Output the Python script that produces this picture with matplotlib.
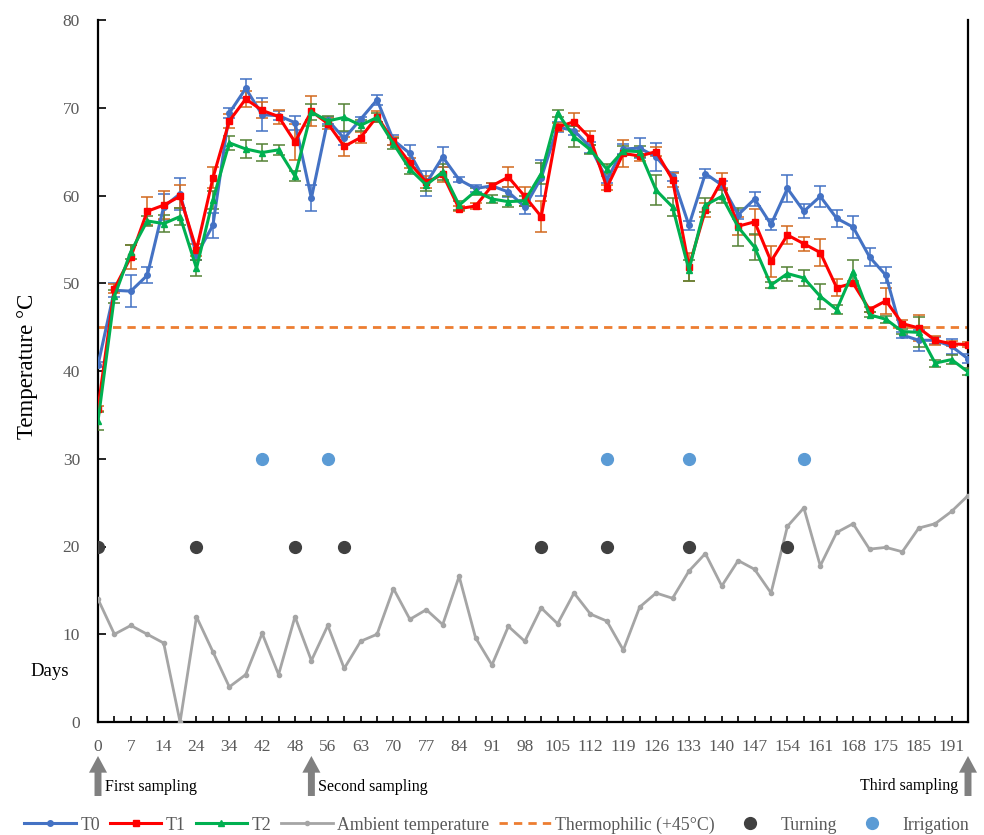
import numpy as np
import matplotlib
matplotlib.use("Agg")
import matplotlib.pyplot as plt
from matplotlib import transforms

plt.rcParams['font.family'] = ['Liberation Serif', 'DejaVu Serif']

# composting days (category axis, every other one labelled)
days = [0, 3, 7, 10, 14, 17, 24, 28, 34, 38, 42, 45, 48, 52, 56, 59, 63, 66, 70, 73,
        77, 80, 84, 87, 91, 94, 98, 101, 105, 108, 112, 115, 119, 122, 126, 129, 133, 136,
        140, 143, 147, 150, 154, 157, 161, 164, 168, 171, 175, 178, 185, 188, 191, 194]

# pile temperatures (mean) per treatment
t0 = [40.7, 49.2, 49.1, 50.9, 58.7, 60.2, 53.2, 56.6, 69.4, 72.2,
      69.2, 69.1, 68.3, 59.7, 68.6, 66.5, 68.7, 70.9, 66.3, 64.8,
      61.4, 64.4, 61.8, 60.8, 61.1, 60.4, 58.7, 62.0, 67.8, 67.4,
      65.5, 61.8, 65.3, 65.4, 64.4, 62.2, 56.6, 62.5, 61.2, 57.8,
      59.6, 56.7, 60.8, 58.2, 59.9, 57.4, 56.4, 53.0, 50.9, 44.1,
      43.5, 43.5, 42.8, 41.4]
t1 = [35.7, 49.4, 53.0, 58.2, 58.9, 59.9, 53.8, 62.0, 68.5, 71.0,
      69.7, 69.0, 66.1, 69.6, 68.2, 65.6, 66.6, 69.0, 66.2, 63.7,
      61.5, 62.4, 58.5, 58.8, 61.1, 62.1, 59.9, 57.6, 67.8, 68.4,
      66.5, 60.9, 64.8, 64.5, 65.0, 61.8, 51.9, 58.3, 61.7, 56.5,
      57.0, 52.5, 55.5, 54.5, 53.5, 49.5, 50.0, 47.0, 48.0, 45.4,
      44.9, 43.5, 43.1, 43.0]
t2 = [34.3, 48.5, 53.6, 57.1, 56.8, 57.6, 51.7, 59.5, 66.0, 65.3,
      64.9, 65.2, 62.2, 69.5, 68.5, 68.9, 68.0, 68.9, 65.9, 63.0,
      61.2, 62.7, 58.9, 60.5, 59.6, 59.3, 59.4, 62.5, 69.4, 66.7,
      65.2, 63.0, 65.1, 65.0, 60.6, 58.7, 51.5, 58.9, 59.9, 56.4,
      54.1, 49.8, 51.1, 50.6, 48.5, 47.0, 51.3, 46.4, 45.9, 44.5,
      44.4, 40.9, 41.3, 39.9]

# standard deviations
t0_sd = [0.3, 0.8, 1.8, 0.9, 1.5, 1.8, 0.5, 1.4, 0.6, 1.1,
         1.9, 0.5, 0.8, 1.5, 0.4, 0.7, 0.3, 0.6, 0.6, 1.0,
         1.4, 1.1, 0.3, 0.4, 0.3, 0.6, 0.8, 2.0, 0.6, 0.5,
         0.6, 0.4, 0.6, 1.1, 1.6, 0.5, 0.5, 0.5, 0.5, 0.5,
         0.8, 0.6, 1.5, 0.8, 1.2, 1.0, 1.3, 1.0, 0.9, 0.3,
         1.2, 0.4, 0.9, 0.5]
t1_sd = [0.3, 0.5, 1.4, 1.6, 1.6, 1.3, 0.7, 1.2, 0.8, 0.9,
         0.9, 0.8, 2.0, 1.7, 0.6, 1.1, 0.6, 0.6, 0.5, 0.6,
         0.7, 0.9, 0.3, 0.3, 0.3, 1.1, 1.1, 1.8, 0.5, 1.0,
         0.8, 0.3, 1.5, 0.6, 0.5, 0.8, 1.6, 0.8, 0.9, 1.0,
         1.5, 1.8, 1.0, 0.8, 1.5, 1.0, 0.3, 0.3, 1.5, 0.4,
         1.5, 0.5, 0.3, 0.3]
t2_sd = [1.0, 0.7, 0.8, 0.6, 1.0, 1.0, 0.9, 1.0, 0.8, 1.0,
         1.0, 0.6, 0.6, 0.9, 0.6, 1.5, 0.6, 0.5, 0.6, 0.6,
         0.7, 0.9, 0.5, 0.4, 0.5, 0.6, 0.6, 1.2, 0.4, 1.2,
         0.5, 0.6, 0.5, 0.6, 1.7, 1.0, 1.2, 0.8, 0.7, 2.2,
         1.5, 0.3, 0.8, 0.9, 1.4, 0.5, 1.3, 0.3, 0.4, 0.3,
         1.7, 0.4, 0.5, 0.4]

ambient = [14, 10, 11, 10, 9, 0, 12, 8, 4, 5.4,
           10.1, 5.4, 12, 7, 11, 6.1, 9.2, 10, 15.2, 11.7,
           12.8, 11.1, 16.6, 9.6, 6.5, 10.9, 9.2, 13.0, 11.2, 14.7,
           12.3, 11.5, 8.2, 13.1, 14.7, 14.1, 17.2, 19.2, 15.5, 18.4,
           17.4, 14.7, 22.3, 24.4, 17.8, 21.6, 22.6, 19.7, 19.9, 19.4,
           22.1, 22.6, 24.0, 25.8]

thermophilic = 45
turning_days = [0, 24, 48, 59, 101, 115, 133, 154]
turning_level = 20
irrigation_days = [42, 56, 115, 133, 157]
irrigation_level = 30
sampling_days = [0, 52, 194]
sampling_labels = ["First sampling", "Second sampling", "Third sampling"]

x = np.arange(len(days))
pos = {d: i for i, d in enumerate(days)}

fig = plt.figure(figsize=(9.84, 8.35), dpi=100)
ax = fig.add_axes([98 / 984, 1 - 722 / 835, 870 / 984, 702 / 835])

ax.axhline(thermophilic, color="#ED7D31", lw=2, ls=(0, (3, 2.2)), zorder=2,
           label="Thermophilic (+45°C)")

ax.plot(x, ambient, color="#A5A5A5", lw=2.0, marker="o", ms=3, zorder=3,
        label="Ambient temperature")

ax.errorbar(x, t0, yerr=t0_sd, fmt="none", ecolor="#4472C4", elinewidth=1.3,
            capsize=4, capthick=1.3, alpha=0.85, zorder=4)
ax.errorbar(x, t1, yerr=t1_sd, fmt="none", ecolor="#D2691E", elinewidth=1.3,
            capsize=4, capthick=1.3, alpha=0.85, zorder=4)
ax.errorbar(x, t2, yerr=t2_sd, fmt="none", ecolor="#548235", elinewidth=1.3,
            capsize=4, capthick=1.3, alpha=0.85, zorder=4)

ax.plot(x, t0, color="#4472C4", lw=2.2, marker="o", ms=4, zorder=5, label="T0")
ax.plot(x, t1, color="#FF0000", lw=2.2, marker="s", ms=4.5, zorder=6, label="T1")
ax.plot(x, t2, color="#00B050", lw=2.2, marker="^", ms=4, zorder=7, label="T2")

ax.plot([pos[d] for d in turning_days], [turning_level] * len(turning_days), "o",
        color="#404040", ms=8.5, zorder=8, label="Turning")
ax.plot([pos[d] for d in irrigation_days], [irrigation_level] * len(irrigation_days), "o",
        color="#5B9BD5", ms=8.5, zorder=8, label="Irrigation")

ax.set_xlim(0, len(days) - 1)
ax.set_ylim(0, 80)
ax.set_yticks(range(0, 81, 10))
ax.set_xticks(x)
ax.set_xticklabels([str(d) if i % 2 == 0 else "" for i, d in enumerate(days)])
ax.tick_params(axis="both", direction="in", colors="#000000", labelcolor="#595959",
               labelsize=12.5, width=1.2)
ax.tick_params(axis="y", length=6, pad=13)
ax.tick_params(axis="x", length=4, pad=12)
for s in ["left", "bottom", "right"]:
    ax.spines[s].set_linewidth(1.6)
ax.spines["top"].set_visible(False)

fig.text(28 / 984, 1 - 366 / 835, "Temperature °C", fontsize=16.5, rotation=90,
         ha="center", va="center")
fig.text(50 / 984, 1 - 672 / 835, "Days", fontsize=13.5, ha="center", va="center")

# sampling arrows under the axis
trans = transforms.blended_transform_factory(ax.transData, fig.transFigure)
for d, lab in zip(sampling_days, sampling_labels):
    ax.annotate("", xy=(pos[d], 1 - 756 / 835), xytext=(pos[d], 1 - 796 / 835),
                xycoords=trans, textcoords=trans, annotation_clip=False,
                arrowprops=dict(facecolor="#808080", edgecolor="none", width=5,
                                headwidth=13, headlength=12, shrink=0))
    if d == sampling_days[-1]:
        ax.text(pos[d] - 0.6, 1 - 786 / 835, lab, transform=trans, ha="right",
                va="center", fontsize=11.5)
    else:
        ax.text(pos[d] + 0.4, 1 - 787 / 835, lab, transform=trans, ha="left",
                va="center", fontsize=11.5)

handles, labels = ax.get_legend_handles_labels()
order = ["T0", "T1", "T2", "Ambient temperature", "Thermophilic (+45°C)", "Turning", "Irrigation"]
hmap = dict(zip(labels, handles))
leg = fig.legend([hmap[k] for k in order], order, loc="center", ncol=7,
                 bbox_to_anchor=(0.505, 1 - 825 / 835), frameon=False, fontsize=12.8,
                 handlelength=2.9, columnspacing=0.55, handletextpad=0.25)
for t in leg.get_texts():
    t.set_color("#595959")

fig.savefig("out.png", dpi=100)
